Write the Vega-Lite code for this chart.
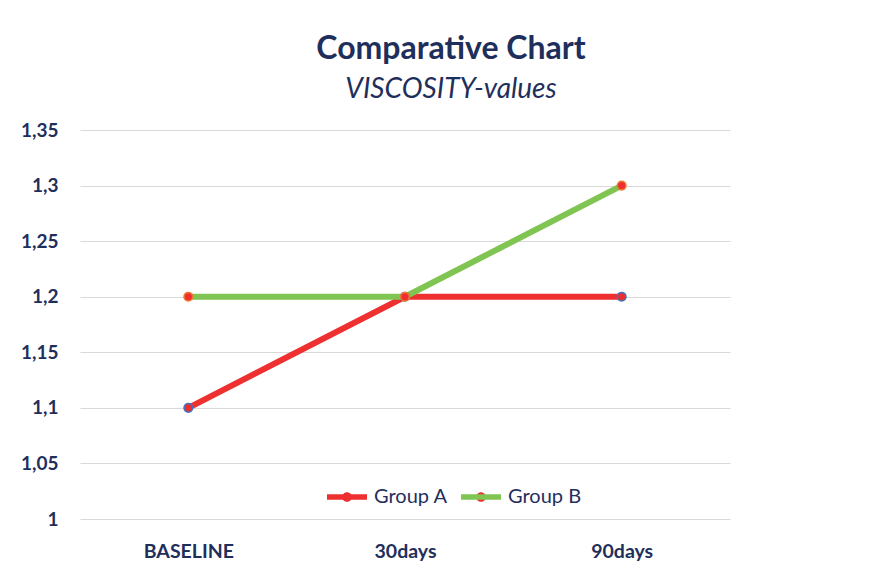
{
  "$schema": "https://vega.github.io/schema/vega-lite/v6.json",
  "width": 650,
  "height": 389,
  "autosize": {"type": "none"},
  "padding": {"left": 80, "top": 130, "right": 151, "bottom": 46},
  "background": "white",
  "config": {"view": {"stroke": null}},
  "title": {
    "text": "Comparative Chart",
    "subtitle": "VISCOSITY-values",
    "anchor": "middle",
    "frame": "group",
    "dx": 46,
    "offset": 16,
    "font": "Lato",
    "fontSize": 32,
    "fontWeight": "bold",
    "color": "#1F2F5C",
    "subtitleFont": "Lato",
    "subtitleFontSize": 28,
    "subtitleFontStyle": "italic",
    "subtitleColor": "#1F2F5C",
    "subtitlePadding": 10
  },
  "data": {
    "values": [
      {"time": "BASELINE", "group": "Group A", "value": 1.1},
      {"time": "30days", "group": "Group A", "value": 1.2},
      {"time": "90days", "group": "Group A", "value": 1.2},
      {"time": "BASELINE", "group": "Group B", "value": 1.2},
      {"time": "30days", "group": "Group B", "value": 1.2},
      {"time": "90days", "group": "Group B", "value": 1.3}
    ]
  },
  "encoding": {
    "x": {
      "field": "time",
      "type": "nominal",
      "sort": ["BASELINE", "30days", "90days"],
      "scale": {"type": "point", "padding": 0.5},
      "axis": {
        "title": null,
        "labelAngle": 0,
        "domain": false,
        "ticks": false,
        "grid": false,
        "labelFont": "Lato",
        "labelFontSize": 19.5,
        "labelFontWeight": "bold",
        "labelColor": "#1F2F5C",
        "labelPadding": 23
      }
    },
    "y": {
      "field": "value",
      "type": "quantitative",
      "scale": {"domain": [1, 1.35], "nice": false, "zero": false},
      "axis": {
        "title": null,
        "values": [1, 1.05, 1.1, 1.15, 1.2, 1.25, 1.3, 1.35],
        "labelExpr": "replace(format(datum.value, '.2~f'), '.', ',')",
        "domain": false,
        "ticks": false,
        "grid": true,
        "gridColor": "#D9D9D9",
        "gridWidth": 1,
        "labelFont": "Lato",
        "labelFontSize": 19,
        "labelFontWeight": "bold",
        "labelColor": "#1F2F5C",
        "labelPadding": 22
      }
    }
  },
  "layer": [
    {
      "mark": {"type": "line", "strokeWidth": 6, "strokeCap": "round"},
      "encoding": {
        "stroke": {
          "field": "group",
          "type": "nominal",
          "scale": {"domain": ["Group A", "Group B"], "range": ["#EE3030", "#80C452"]},
          "legend": {
            "orient": "none",
            "legendX": 244,
            "legendY": 344,
            "direction": "horizontal",
            "title": null,
            "symbolType": "stroke",
            "symbolSize": 1600,
            "symbolStrokeWidth": 5.5,
            "labelFont": "Lato",
            "labelFontSize": 20,
            "labelColor": "#1F2F5C",
            "labelOffset": 4,
            "columnPadding": 2
          }
        }
      }
    },
    {
      "mark": {"type": "point", "filled": true, "opacity": 1, "size": 75, "strokeWidth": 1.5, "shape": "circle"},
      "encoding": {
        "fill": {
          "field": "group",
          "type": "nominal",
          "scale": {"domain": ["Group A", "Group B"], "range": ["#E8302E", "#EE3030"]},
          "legend": {
            "orient": "none",
            "legendX": 246,
            "legendY": 346,
            "direction": "horizontal",
            "title": null,
            "symbolType": "M-0.24,0A0.24,0.24,0,1,1,0.24,0A0.24,0.24,0,1,1,-0.24,0Z",
            "symbolSize": 1600,
            "symbolStrokeWidth": 1.5,
            "labelExpr": "''",
            "labelFontSize": 20,
            "labelOffset": 4,
            "columnPadding": 88
          }
        },
        "stroke": {
          "field": "group",
          "type": "nominal",
          "scale": {"domain": ["Group A", "Group B"], "range": ["#4472C4", "#F07830"]},
          "legend": null
        }
      }
    }
  ],
  "resolve": {"scale": {"stroke": "independent"}}
}
